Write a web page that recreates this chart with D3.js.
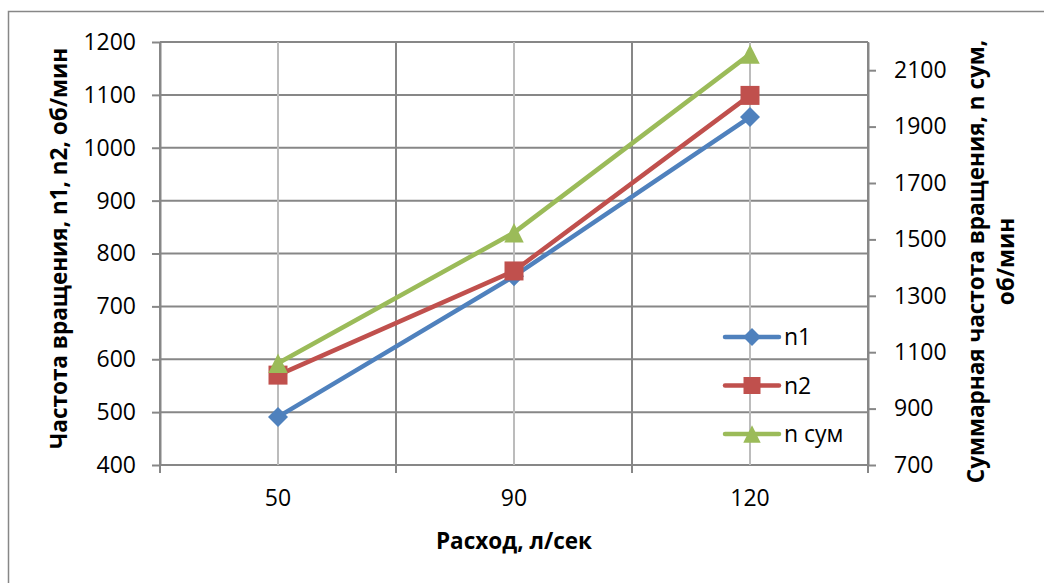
<!DOCTYPE html>
<html>
<head>
<meta charset="utf-8">
<script src="https://cdn.jsdelivr.net/npm/d3@7.9.0/dist/d3.min.js"></script>
<style>
  html, body { margin: 0; padding: 0; background: #fff; }
  svg { display: block; font-family: 'Open Sans', sans-serif; }
</style>
</head>
<body>
<svg id="chart" width="1044" height="583"></svg>
<script>
// data
const categories = ['50', '90', '120'];
const n1 = [491, 757, 1058];
const n2 = [570, 767, 1099];
const nSum = [1061, 1524, 2157];
const leftTicks = [400, 500, 600, 700, 800, 900, 1000, 1100, 1200];
const rightTicks = [700, 900, 1100, 1300, 1500, 1700, 1900, 2100];

const xTitle = 'Расход, л/сек';
const leftTitle = 'Частота вращения, n1, n2, об/мин';
const rightTitleLines = ['Суммарная частота вращения, n сум,', 'об/мин'];

// marker shapes, sized by side length squared
const diamond = {
  draw(ctx, size) {
    const s = Math.sqrt(size) / 2;
    ctx.moveTo(0, -s); ctx.lineTo(s, 0); ctx.lineTo(0, s); ctx.lineTo(-s, 0); ctx.closePath();
  }
};
const square = {
  draw(ctx, size) {
    const s = Math.sqrt(size) / 2;
    ctx.rect(-s, -s, 2 * s, 2 * s);
  }
};
const triangle = {
  draw(ctx, size) {
    const s = Math.sqrt(size) / 2;
    ctx.moveTo(0, -s); ctx.lineTo(s, s); ctx.lineTo(-s, s); ctx.closePath();
  }
};

const series = [
  { name: 'n1', values: n1, axis: 'left', color: '#4F81BD', shape: diamond, size: 400 },
  { name: 'n2', values: n2, axis: 'left', color: '#C0504D', shape: square, size: 361 },
  { name: 'n сум', values: nSum, axis: 'right', color: '#9BBB59', shape: triangle, size: 380 },
];

const plot = { left: 160, right: 868, top: 42, bottom: 465 };
const gridColor = '#878787';
const gridLight = '#bcbcbc';
const tickFont = '23px';
const titleFont = '22.5px';

const svg = d3.select('#chart');

const x = d3.scaleBand().domain(categories).range([plot.left, plot.right]);
const yLeft = d3.scaleLinear().domain([400, 1200]).range([plot.bottom, plot.top]);
const yRight = d3.scaleLinear().domain([700, 2200]).range([plot.bottom, plot.top]);
const cx = (c) => x(c) + x.bandwidth() / 2;

// chart border
svg.append('rect')
  .attr('x', 8.5).attr('y', 11.5)
  .attr('width', 1040).attr('height', 580)
  .attr('fill', 'none').attr('stroke', gridColor).attr('stroke-width', 1.5);

// grid
const grid = svg.append('g');
grid.selectAll('line.h')
  .data(leftTicks)
  .join('line')
  .attr('class', 'h')
  .attr('x1', plot.left).attr('x2', plot.right)
  .attr('y1', (d) => yLeft(d)).attr('y2', (d) => yLeft(d))
  .attr('stroke', gridColor).attr('stroke-width', 2);

grid.selectAll('line.vc')
  .data(categories)
  .join('line')
  .attr('class', 'vc')
  .attr('x1', cx).attr('x2', cx)
  .attr('y1', plot.top).attr('y2', plot.bottom)
  .attr('stroke', gridLight).attr('stroke-width', 2);

const edges = categories.map((c) => x(c)).concat([plot.right]);
grid.selectAll('line.ve')
  .data(edges)
  .join('line')
  .attr('class', 've')
  .attr('x1', (d) => d).attr('x2', (d) => d)
  .attr('y1', plot.top).attr('y2', plot.bottom + 8)
  .attr('stroke', gridColor).attr('stroke-width', 2);

// axes
function styleAxis(g) {
  g.attr('font-size', null).attr('font-family', null);
  g.select('.domain').attr('stroke', gridColor).attr('stroke-width', 2);
  g.selectAll('.tick line').attr('stroke', gridColor).attr('stroke-width', 2);
  g.selectAll('.tick text')
    .attr('fill', '#000')
    .style('font-size', tickFont);
}

svg.append('g')
  .attr('transform', `translate(${plot.left},0)`)
  .call(d3.axisLeft(yLeft).tickValues(leftTicks).tickFormat(d3.format('d'))
    .tickSize(8).tickSizeOuter(0).tickPadding(16))
  .call(styleAxis);

svg.append('g')
  .attr('transform', `translate(${plot.right},0)`)
  .call(d3.axisRight(yRight).tickValues(rightTicks).tickFormat(d3.format('d'))
    .tickSize(8).tickSizeOuter(0).tickPadding(18))
  .call(styleAxis);

svg.append('g')
  .attr('transform', `translate(0,${plot.bottom})`)
  .call(d3.axisBottom(x).tickSize(0).tickPadding(25))
  .call(styleAxis)
  .call((g) => g.select('.domain').remove());

// axis titles
svg.append('text')
  .attr('x', (plot.left + plot.right) / 2)
  .attr('y', 549)
  .attr('text-anchor', 'middle')
  .style('font-size', titleFont)
  .style('font-weight', 'bold')
  .text(xTitle);

svg.append('text')
  .attr('transform', `translate(67,${(plot.top + plot.bottom) / 2 - 5}) rotate(-90)`)
  .attr('text-anchor', 'middle')
  .style('font-size', titleFont)
  .style('font-weight', 'bold')
  .text(leftTitle);

svg.append('text')
  .attr('transform', `translate(984,${(plot.top + plot.bottom) / 2 + 8}) rotate(-90)`)
  .attr('text-anchor', 'middle')
  .style('font-size', titleFont)
  .style('font-weight', 'bold')
  .selectAll('tspan')
  .data(rightTitleLines)
  .join('tspan')
  .attr('x', 0)
  .attr('dy', (d, i) => (i === 0 ? 0 : 30))
  .text((d) => d);

// series
const line = d3.line();
series.forEach((s) => {
  const yScale = s.axis === 'left' ? yLeft : yRight;
  const pts = s.values.map((v, i) => [cx(categories[i]), yScale(v)]);
  const g = svg.append('g');
  g.append('path')
    .attr('d', line(pts))
    .attr('fill', 'none')
    .attr('stroke', s.color)
    .attr('stroke-width', 4.5)
    .attr('stroke-linejoin', 'round')
    .attr('stroke-linecap', 'round');
  g.selectAll('path.marker')
    .data(pts)
    .join('path')
    .attr('class', 'marker')
    .attr('transform', (d) => `translate(${d[0]},${d[1]})`)
    .attr('d', d3.symbol().type(s.shape).size(s.size))
    .attr('fill', s.color);
});

// legend
const legendY = d3.scalePoint().domain(series.map((s) => s.name)).range([337, 434]);
const legend = svg.append('g');
series.forEach((s) => {
  const item = legend.append('g').attr('transform', `translate(752,${legendY(s.name)})`);
  item.append('line')
    .attr('x1', -27).attr('x2', 27)
    .attr('stroke', s.color).attr('stroke-width', 4.5).attr('stroke-linecap', 'round');
  item.append('path')
    .attr('d', d3.symbol().type(s.shape).size(s.size * 0.8))
    .attr('fill', s.color);
  item.append('text')
    .attr('x', 32)
    .attr('dy', '0.35em')
    .style('font-size', tickFont)
    .text(s.name);
});
</script>
</body>
</html>
